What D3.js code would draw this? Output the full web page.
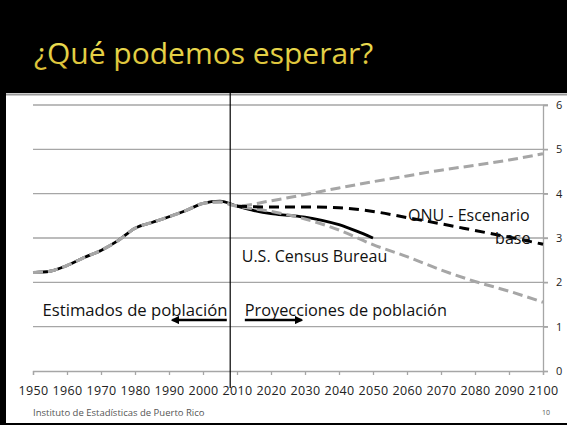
<!DOCTYPE html>
<html>
<head>
<meta charset="utf-8">
<script src="https://cdn.jsdelivr.net/npm/d3@7"></script>
<style>
  body { margin: 0; background: #000; }
  svg { display: block; }
</style>
</head>
<body>
<div id="chart"></div>
<script>
// historical estimates (millions), shared by every series up to 2010
const histYears = [1950, 1955, 1960, 1965, 1970, 1975, 1980, 1985, 1990, 1995, 2000, 2005, 2010];
const histValues = [2.22, 2.25, 2.38, 2.56, 2.72, 2.94, 3.22, 3.35, 3.48, 3.62, 3.78, 3.81, 3.72];

// U.S. Census Bureau projection
const censusYears = [2010, 2015, 2020, 2025, 2030, 2035, 2040, 2045, 2050];
const censusValues = [3.72, 3.62, 3.55, 3.51, 3.47, 3.40, 3.30, 3.16, 3.00];
const censusPeak = [{ year: 2005, value: 3.83 }];

// ONU scenarios
const unYears = [2010, 2020, 2030, 2040, 2050, 2060, 2070, 2080, 2090, 2100];
const unHigh = [3.72, 3.84, 3.98, 4.13, 4.27, 4.40, 4.53, 4.64, 4.76, 4.90];
const unBase = [3.72, 3.70, 3.70, 3.68, 3.60, 3.46, 3.32, 3.17, 3.02, 2.86];
const unLow = [3.72, 3.60, 3.43, 3.18, 2.85, 2.58, 2.28, 2.02, 1.80, 1.55];

const xTicks = d3.range(1950, 2101, 10);
const yTicks = [0, 1, 2, 3, 4, 5, 6];
const splitYear = 2008;

const width = 567, height = 425;
const svg = d3.select("#chart").append("svg")
  .attr("width", width).attr("height", height);

// slide background
svg.append("rect").attr("width", width).attr("height", height).attr("fill", "#000");

const defs = svg.append("defs");
const grad = defs.append("linearGradient")
  .attr("id", "titleGrad").attr("x1", 0).attr("y1", 0).attr("x2", 0).attr("y2", 1);
grad.append("stop").attr("offset", "0%").attr("stop-color", "#f2ea5c");
grad.append("stop").attr("offset", "100%").attr("stop-color", "#d8ba32");

svg.append("text")
  .attr("x", 34).attr("y", 64)
  .attr("font-family", "'Open Sans', sans-serif")
  .attr("font-size", 30)
  .attr("font-weight", 500)
  .attr("fill", "url(#titleGrad)")
  .text("¿Qué podemos esperar?");

svg.append("rect").attr("x", 6).attr("y", 93).attr("width", width - 6).attr("height", 330)
  .attr("fill", "#fff");
svg.append("line").attr("x1", 6).attr("x2", width).attr("y1", 94.5).attr("y2", 94.5)
  .attr("stroke", "#9a9a9a").attr("stroke-width", 2);

const x = d3.scaleLinear().domain([1950, 2100]).range([33, 543]);
const y = d3.scaleLinear().domain([0, 6]).range([371, 105]);

// gridlines
svg.append("g").selectAll("line")
  .data(yTicks.filter(d => d > 0))
  .join("line")
  .attr("x1", x(1950)).attr("x2", x(2100) + 5)
  .attr("y1", d => y(d)).attr("y2", d => y(d))
  .attr("stroke", "#a6a6a6").attr("stroke-width", 1.3);

// right axis
const yAxis = svg.append("g")
  .attr("transform", `translate(${x(2100)},0)`)
  .call(d3.axisRight(y).tickValues(yTicks).tickFormat(d3.format("d")).tickSize(5).tickPadding(8));
yAxis.select(".domain").attr("stroke", "#a6a6a6").attr("stroke-width", 1.3);
yAxis.selectAll(".tick line").attr("stroke", "#a6a6a6").attr("stroke-width", 1.3);
yAxis.selectAll("text")
  .attr("font-family", "'Open Sans', sans-serif").attr("font-size", 11).attr("fill", "#222");

// bottom axis
const xAxis = svg.append("g")
  .attr("transform", `translate(0,${y(0)})`)
  .call(d3.axisBottom(x).tickValues(xTicks).tickFormat(d3.format("d")).tickSize(4).tickPadding(11));
xAxis.select(".domain").attr("stroke", "#a6a6a6").attr("stroke-width", 1.3);
xAxis.selectAll(".tick line").attr("stroke", "#a6a6a6").attr("stroke-width", 1.3);
xAxis.selectAll("text")
  .attr("font-family", "'Open Sans', sans-serif").attr("font-size", 12.5)
  .attr("letter-spacing", 0.3).attr("fill", "#222");

const line = d3.line().x(d => x(d.year)).y(d => y(d.value)).curve(d3.curveMonotoneX);
const zip = (ys, vs) => ys.map((yr, i) => ({ year: yr, value: vs[i] }));
const hist = zip(histYears, histValues);

// census solid: history with its own peak, then projection
const censusData = hist.filter(d => d.year < 2005)
  .concat(censusPeak)
  .concat(zip(censusYears, censusValues));
svg.append("path").datum(censusData)
  .attr("d", line).attr("fill", "none")
  .attr("stroke", "#000").attr("stroke-width", 2.8);

// ONU high and low (gray dashed), including history
[unHigh, unLow].forEach(vals => {
  svg.append("path").datum(hist.slice(0, -1).concat(zip(unYears, vals)))
    .attr("d", line).attr("fill", "none")
    .attr("stroke", "#a6a6a6").attr("stroke-width", 3)
    .attr("stroke-dasharray", "10,5");
});

// ONU base (black dashed)
svg.append("path").datum(zip(unYears, unBase))
  .attr("d", line).attr("fill", "none")
  .attr("stroke", "#000").attr("stroke-width", 3)
  .attr("stroke-dasharray", "10,6");

// split line
svg.append("line")
  .attr("x1", x(splitYear)).attr("x2", x(splitYear))
  .attr("y1", 93).attr("y2", 388)
  .attr("stroke", "#000").attr("stroke-width", 1.2);

// labels
const labelFont = "'Open Sans', sans-serif";
function label(txt, xv, yv, size, anchor) {
  svg.append("text").attr("x", x(xv)).attr("y", y(yv))
    .attr("font-family", labelFont).attr("font-size", size)
    .attr("text-anchor", anchor || "start").attr("fill", "#111")
    .text(txt);
}
label("U.S. Census Bureau", 2011.4, 2.46, 16);
label("ONU - Escenario", 2060.3, 3.39, 16);
label("base", 2096.3, 2.86, 16, "end");
label("Estimados de población", 1952.8, 1.24, 16.7);
label("Proyecciones de población", 2012.3, 1.24, 16.3);

// arrows
const arrowYears = [[2007, 1991], [2012.3, 2029]];
const arrowLevel = 1.15;
defs.append("marker").attr("id", "arrowHead")
  .attr("viewBox", "0 0 10 10").attr("refX", 8).attr("refY", 5)
  .attr("markerWidth", 3.5).attr("markerHeight", 3.5).attr("orient", "auto")
  .append("path").attr("d", "M0,0L10,5L0,10Z").attr("fill", "#000");
arrowYears.forEach(([from, to]) => {
  svg.append("line")
    .attr("x1", x(from)).attr("x2", x(to))
    .attr("y1", y(arrowLevel)).attr("y2", y(arrowLevel))
    .attr("stroke", "#000").attr("stroke-width", 2.4)
    .attr("marker-end", "url(#arrowHead)");
});

// footer
svg.append("text").attr("x", 33).attr("y", 416)
  .attr("font-family", "'Open Sans', sans-serif").attr("font-size", 9.5).attr("fill", "#555")
  .text("Instituto de Estadísticas de Puerto Rico");
svg.append("text").attr("x", 546).attr("y", 415).attr("text-anchor", "middle")
  .attr("font-family", "'Open Sans', sans-serif").attr("font-size", 7).attr("fill", "#555")
  .text("10");
</script>
</body>
</html>
